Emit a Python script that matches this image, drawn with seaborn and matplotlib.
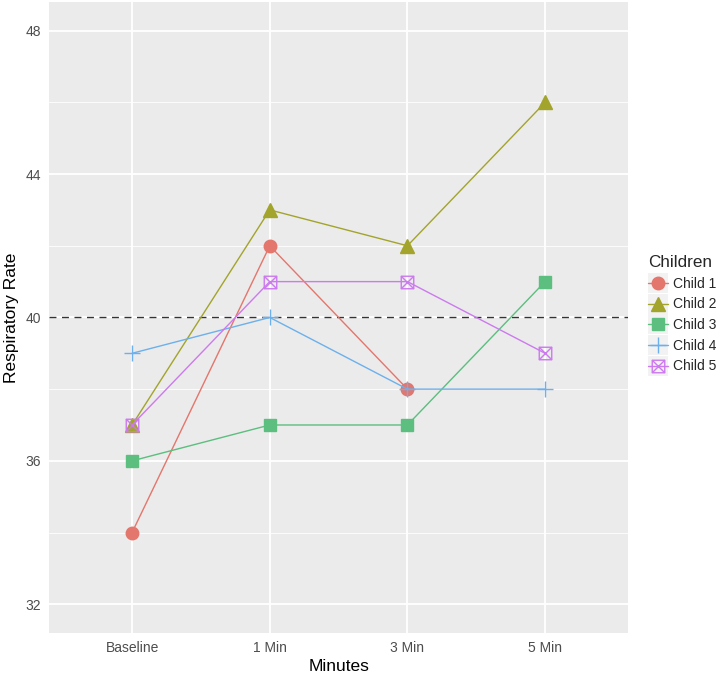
import pandas as pd
import seaborn as sns
import matplotlib.pyplot as plt
from matplotlib.path import Path
from matplotlib.patches import Rectangle

# data
minutes = ['Baseline', '1 Min', '3 Min', '5 Min']
children = ['Child 1', 'Child 2', 'Child 3', 'Child 4', 'Child 5']
child_1 = [34, 42, 38, None]
child_2 = [37, 43, 42, 46]
child_3 = [36, 37, 37, 41]
child_4 = [39, 40, 38, 38]
child_5 = [37, 41, 41, 39]
threshold = 40
y_ticks = [32, 36, 40, 44, 48]

rows = []
for name, vals in zip(children, [child_1, child_2, child_3, child_4, child_5]):
    for m, v in zip(minutes, vals):
        if v is not None:
            rows.append({'Minutes': m, 'Respiratory Rate': v, 'Children': name})
df = pd.DataFrame(rows)

# ggplot-like colours / shapes (slightly muted like the picture)
palette = ['#E3766D', '#A3A42B', '#5CBE7F', '#6CB0EC', '#CC7AEE']
boxed_x = Path([(-1, -1), (1, -1), (1, 1), (-1, 1), (-1, -1),
                (-1, -1), (1, 1), (-1, 1), (1, -1)],
               [Path.MOVETO, Path.LINETO, Path.LINETO, Path.LINETO, Path.CLOSEPOLY,
                Path.MOVETO, Path.LINETO, Path.MOVETO, Path.LINETO])
plus = Path([(-1, 0), (1, 0), (0, -1), (0, 1)],
            [Path.MOVETO, Path.LINETO, Path.MOVETO, Path.LINETO])
markers = dict(zip(children, ['o', '^', 's', plus, boxed_x]))
sizes = dict(zip(children, [9, 10, 8.5, 11, 9]))

sns.set_theme(style='darkgrid', rc={
    'axes.facecolor': '#EBEBEB',
    'grid.color': 'white',
    'xtick.color': '#333333',
    'ytick.color': '#333333',
})
plt.rcParams['font.family'] = ['Liberation Sans', 'DejaVu Sans']

fig = plt.figure(figsize=(7.17, 6.74), dpi=100)
ax = fig.add_axes([0.069, 0.061, 0.8065, 0.936])

sns.lineplot(data=df, x='Minutes', y='Respiratory Rate', hue='Children', style='Children',
             hue_order=children, style_order=children, palette=palette, markers=markers,
             dashes=False, sort=False, linewidth=1.0, ax=ax, legend=False)

for line, name, col in zip(ax.lines[:5], children, palette):
    line.set_markersize(sizes[name])
    line.set_markeredgecolor(col)
    line.set_markerfacecolor(col)
    line.set_markeredgewidth(1.0)
    line.set_color(col)
    if name in ('Child 4', 'Child 5'):
        line.set_markerfacecolor('none')

ax.axhline(threshold, color='#333333', linestyle=(0, (5, 4)), linewidth=1.0, zorder=1)

ax.set_xlim(-0.6, len(minutes) - 1 + 0.6)
ax.set_ylim(31.2, 48.8)
ax.set_yticks(y_ticks)
ax.set_yticks([34, 38, 42, 46], minor=True)
ax.grid(which='major', color='white', linewidth=1.3)
ax.grid(which='minor', axis='y', color='white', linewidth=0.6)
ax.grid(which='minor', axis='x', visible=False)
for s in ax.spines.values():
    s.set_visible(False)
ax.tick_params(axis='both', which='major', length=3, width=0.8, color='#333333',
               labelsize=10, labelcolor='#4D4D4D', pad=3)
ax.tick_params(axis='both', which='minor', length=0)
ax.set_xlabel('Minutes', fontsize=12.5, color='black', labelpad=3)
ax.set_ylabel('Respiratory Rate', fontsize=12.5, color='black', labelpad=5)

leg = ax.legend(handles=ax.lines[:5], labels=children, title='Children',
                loc='center left', bbox_to_anchor=(1.014, 0.505), frameon=False,
                fontsize=10, title_fontsize=12.3, handlelength=1.4,
                handletextpad=0.4, labelspacing=0.48)
leg._legend_box.align = 'left'

# grey key backgrounds like ggplot
fig.canvas.draw()
r = fig.canvas.get_renderer()
for h in leg.legend_handles:
    bb = h.get_window_extent(r)
    cx, cy = (bb.x0 + bb.x1) / 2, (bb.y0 + bb.y1) / 2
    fig.patches.append(Rectangle((cx - 10, cy - 10), 20, 20, transform=None,
                                 facecolor='#F2F2F2', edgecolor='none', zorder=-1))

fig.savefig('out.png', dpi=100)
